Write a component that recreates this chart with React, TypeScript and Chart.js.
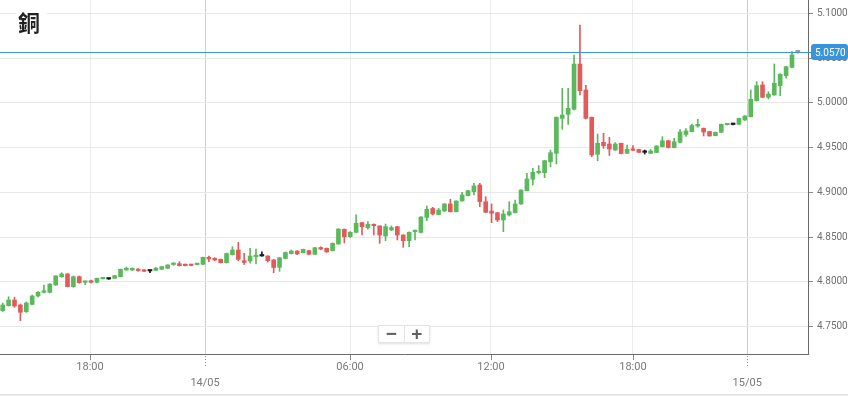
import React, { useEffect, useRef } from 'react';
import { Chart, registerables } from 'chart.js';

Chart.register(...registerables);

const title = '銅';
const currentPrice = 5.057;

const opens = [
  4.7677, 4.7733, 4.7796, 4.7741, 4.7666, 4.7748, 4.7841, 4.7882, 4.7882, 4.7964,
  4.8057, 4.8087, 4.7945, 4.8057, 4.7994, 4.8012, 4.7994, 4.8033, 4.8031, 4.8039,
  4.8057, 4.8132, 4.8132, 4.8137, 4.8132, 4.8121, 4.8128, 4.8140, 4.8151, 4.8193,
  4.8202, 4.8196, 4.8188, 4.8192, 4.8196, 4.8274, 4.8263, 4.8251, 4.8213, 4.8303,
  4.8355, 4.8236, 4.8232, 4.8280, 4.8288, 4.8288, 4.8244, 4.8162, 4.8260, 4.8314,
  4.8344, 4.8325, 4.8348, 4.8307, 4.8381, 4.8374, 4.8348, 4.8422, 4.8587, 4.8504,
  4.8553, 4.8661, 4.8605, 4.8635, 4.8624, 4.8512, 4.8579, 4.8616, 4.8523, 4.8459,
  4.8560, 4.8551, 4.8719, 4.8819, 4.8752, 4.8791, 4.8870, 4.8783, 4.8903, 4.8962,
  4.9007, 4.9082, 4.8895, 4.8791, 4.8772, 4.8691, 4.8747, 4.8772, 4.8870, 4.9018,
  4.9146, 4.9219, 4.9219, 4.9342, 4.9436, 4.9827, 4.9872, 4.9928, 5.0434, 5.0144,
  4.9839, 4.9425, 4.9559, 4.9540, 4.9473, 4.9548, 4.9436, 4.9481, 4.9479, 4.9447,
  4.9436, 4.9445, 4.9510, 4.9577, 4.9499, 4.9559, 4.9646, 4.9678, 4.9741, 4.9716,
  4.9680, 4.9633, 4.9671, 4.9755, 4.9758, 4.9760, 4.9808, 4.9845, 5.0024, 5.0200,
  5.0062, 5.0088, 5.0192, 5.0304, 5.0397, 5.0570,
];
const highs = [
  4.7763, 4.7833, 4.7827, 4.7752, 4.7774, 4.7852, 4.7891, 4.7964, 4.7981, 4.8070,
  4.8102, 4.8093, 4.8065, 4.8065, 4.8009, 4.8020, 4.8042, 4.8042, 4.8033, 4.8072,
  4.8143, 4.8165, 4.8154, 4.8146, 4.8135, 4.8123, 4.8162, 4.8173, 4.8191, 4.8213,
  4.8225, 4.8199, 4.8190, 4.8201, 4.8277, 4.8288, 4.8269, 4.8255, 4.8322, 4.8392,
  4.8441, 4.8318, 4.8374, 4.8366, 4.8336, 4.8292, 4.8251, 4.8274, 4.8333, 4.8355,
  4.8348, 4.8366, 4.8352, 4.8385, 4.8392, 4.8378, 4.8434, 4.8593, 4.8590, 4.8562,
  4.8747, 4.8665, 4.8672, 4.8646, 4.8627, 4.8646, 4.8624, 4.8620, 4.8526, 4.8557,
  4.8579, 4.8728, 4.8847, 4.8833, 4.8821, 4.8875, 4.8922, 4.8906, 4.9000, 4.9023,
  4.9101, 4.9101, 4.8951, 4.8870, 4.8777, 4.8802, 4.8895, 4.8914, 4.9029, 4.9213,
  4.9269, 4.9298, 4.9358, 4.9473, 4.9842, 5.0163, 5.0163, 5.0535, 5.0870, 5.0196,
  4.9842, 4.9652, 4.9660, 4.9615, 4.9555, 4.9551, 4.9529, 4.9523, 4.9482, 4.9473,
  4.9479, 4.9521, 4.9622, 4.9582, 4.9604, 4.9702, 4.9713, 4.9764, 4.9816, 4.9719,
  4.9683, 4.9674, 4.9764, 4.9764, 4.9772, 4.9831, 4.9859, 5.0144, 5.0237, 5.0237,
  5.0125, 5.0434, 5.0326, 5.0409, 5.0572, 5.0585,
];
const lows = [
  4.7668, 4.7729, 4.7715, 4.7565, 4.7657, 4.7741, 4.7830, 4.7875, 4.7875, 4.7959,
  4.8048, 4.7942, 4.7938, 4.7983, 4.7967, 4.7986, 4.7986, 4.8031, 4.8026, 4.8035,
  4.8054, 4.8128, 4.8126, 4.8117, 4.8113, 4.8102, 4.8124, 4.8135, 4.8146, 4.8184,
  4.8177, 4.8177, 4.8179, 4.8188, 4.8191, 4.8225, 4.8236, 4.8210, 4.8210, 4.8299,
  4.8236, 4.8193, 4.8207, 4.8199, 4.8286, 4.8221, 4.8102, 4.8117, 4.8255, 4.8311,
  4.8303, 4.8322, 4.8303, 4.8303, 4.8359, 4.8330, 4.8344, 4.8419, 4.8434, 4.8495,
  4.8549, 4.8523, 4.8587, 4.8523, 4.8430, 4.8459, 4.8571, 4.8467, 4.8385, 4.8392,
  4.8467, 4.8545, 4.8683, 4.8747, 4.8747, 4.8786, 4.8780, 4.8780, 4.8900, 4.8959,
  4.8970, 4.8839, 4.8772, 4.8661, 4.8672, 4.8560, 4.8735, 4.8769, 4.8866, 4.9015,
  4.9082, 4.9205, 4.9164, 4.9286, 4.9317, 4.9705, 4.9760, 4.9920, 5.0088, 4.9820,
  4.9398, 4.9354, 4.9492, 4.9412, 4.9468, 4.9428, 4.9432, 4.9465, 4.9443, 4.9428,
  4.9432, 4.9442, 4.9507, 4.9496, 4.9496, 4.9555, 4.9624, 4.9674, 4.9727, 4.9630,
  4.9626, 4.9630, 4.9666, 4.9753, 4.9753, 4.9756, 4.9805, 4.9842, 5.0021, 5.0058,
  5.0043, 5.0085, 5.0080, 5.0275, 5.0393, 5.0555,
];
const closes = [
  4.7741, 4.7796, 4.7729, 4.7659, 4.7763, 4.7841, 4.7882, 4.7900, 4.7975, 4.8065,
  4.8087, 4.7945, 4.8057, 4.7990, 4.8005, 4.7994, 4.8039, 4.8039, 4.8031, 4.8068,
  4.8140, 4.8151, 4.8151, 4.8126, 4.8117, 4.8121, 4.8151, 4.8169, 4.8188, 4.8202,
  4.8180, 4.8180, 4.8182, 4.8199, 4.8274, 4.8255, 4.8244, 4.8213, 4.8316, 4.8355,
  4.8251, 4.8216, 4.8288, 4.8292, 4.8288, 4.8236, 4.8160, 4.8269, 4.8327, 4.8344,
  4.8311, 4.8363, 4.8307, 4.8381, 4.8366, 4.8333, 4.8430, 4.8590, 4.8504, 4.8553,
  4.8654, 4.8616, 4.8643, 4.8627, 4.8523, 4.8616, 4.8605, 4.8523, 4.8459, 4.8553,
  4.8568, 4.8724, 4.8810, 4.8758, 4.8802, 4.8870, 4.8783, 4.8903, 4.8970, 4.9018,
  4.9071, 4.8895, 4.8777, 4.8766, 4.8691, 4.8758, 4.8783, 4.8870, 4.9026, 4.9149,
  4.9224, 4.9227, 4.9354, 4.9443, 4.9839, 4.9864, 4.9939, 5.0434, 5.0136, 4.9827,
  4.9417, 4.9548, 4.9521, 4.9484, 4.9540, 4.9434, 4.9481, 4.9470, 4.9447, 4.9447,
  4.9462, 4.9518, 4.9577, 4.9501, 4.9566, 4.9674, 4.9686, 4.9747, 4.9760, 4.9674,
  4.9630, 4.9671, 4.9760, 4.9760, 4.9758, 4.9827, 4.9853, 5.0040, 5.0192, 5.0062,
  5.0099, 5.0219, 5.0319, 5.0404, 5.0535, 5.0570,
];

const yTickValues = [4.75, 4.8, 4.85, 4.9, 4.95, 5.0, 5.05, 5.1];
const xTickLabels = ['18:00', '14/05', '06:00', '12:00', '18:00', '15/05'];
const xTickSlots = [14.82, 34.35, 58.97, 82.9, 107.0, 126.4];
const xTickIsDay = [false, true, false, false, false, true];

const GREEN = '#5cb85c';
const RED = '#e25b5b';
const DOJI = '#1a1a1a';
const LIVE = '#9a9a9a';
const BLUE = '#3a94dc';
const AXIS_FONT = 'Roboto, sans-serif';

function candleColor(i: number): string {
  if (i === opens.length - 1) return LIVE;
  if (closes[i] > opens[i]) return GREEN;
  if (closes[i] < opens[i]) return RED;
  return DOJI;
}

const priceLinePlugin = {
  id: 'priceLine',
  afterDraw(chart: any) {
    const { ctx, chartArea } = chart;
    const yScale = chart.scales.y;
    const py = Math.round(yScale.getPixelForValue(currentPrice)) + 0.5;
    ctx.save();
    ctx.strokeStyle = BLUE;
    ctx.lineWidth = 1;
    ctx.beginPath();
    ctx.moveTo(chartArea.left, py);
    ctx.lineTo(chartArea.right + 4, py);
    ctx.stroke();
    const bx = chartArea.right + 3;
    const bw = chart.width - bx;
    const bh = 16;
    const by = py - 8.5;
    ctx.fillStyle = BLUE;
    ctx.beginPath();
    if (ctx.roundRect) ctx.roundRect(bx, by, bw, bh, 3);
    else ctx.rect(bx, by, bw, bh);
    ctx.fill();
    ctx.fillStyle = '#ffffff';
    ctx.font = `10px ${AXIS_FONT}`;
    ctx.textAlign = 'left';
    ctx.textBaseline = 'middle';
    ctx.fillText(currentPrice.toFixed(4), bx + 4, py + 0.5);
    ctx.restore();
  },
};

const xTickMarkPlugin = {
  id: 'xTickMarks',
  afterDraw(chart: any) {
    const { ctx, chartArea } = chart;
    const xs = chart.scales.x;
    ctx.save();
    ctx.fillStyle = '#8a8a8a';
    xTickSlots.forEach((v, i) => {
      const px = Math.round(xs.getPixelForValue(v));
      if (xTickIsDay[i]) {
        for (let k = 0; k < 4; k++) ctx.fillRect(px, chartArea.bottom + 2 + k * 3, 1, 1);
      } else {
        ctx.fillRect(px, chartArea.bottom + 1, 1, 5);
      }
    });
    ctx.restore();
  },
};

export default function App() {
  const ref = useRef<HTMLCanvasElement>(null);

  useEffect(() => {
    document.body.style.margin = '0';
    const canvas = ref.current;
    if (!canvas) return;
    const colors = opens.map((_, i) => candleColor(i));
    const chart = new Chart(canvas, {
      type: 'bar',
      data: {
        datasets: [
          {
            label: 'body',
            data: opens.map((o, i) => ({ x: i, y: [Math.min(o, closes[i]), Math.max(o, closes[i])] })) as any,
            backgroundColor: colors,
            barThickness: 4,
            minBarLength: 1.5,
            grouped: false,
            order: 0,
            borderWidth: 0,
          },
          {
            label: 'wick',
            data: opens.map((_, i) => ({ x: i, y: [lows[i], highs[i]] })) as any,
            backgroundColor: colors,
            barThickness: 1,
            grouped: false,
            order: 1,
            borderWidth: 0,
          },
        ],
      },
      options: {
        animation: false,
        responsive: false,
        events: [],
        layout: { padding: 0 },
        plugins: {
          legend: { display: false },
          tooltip: { enabled: false },
          title: { display: false },
        },
        scales: {
          x: {
            type: 'linear',
            min: -0.46,
            max: 136.72,
            offset: false,
            afterBuildTicks: (scale: any) => {
              scale.ticks = xTickSlots.map((v) => ({ value: v }));
            },
            afterFit: (scale: any) => {
              scale.height = 42;
              scale.paddingLeft = 0;
              scale.paddingRight = 0;
            },
            grid: {
              offset: false,
              drawTicks: false,
              lineWidth: 1,
              color: (ctx: any) => (xTickIsDay[ctx.index] ? '#cdcdcd' : '#ececec'),
            },
            border: { display: true, color: '#6a6a6a', width: 1 },
            ticks: {
              autoSkip: false,
              maxRotation: 0,
              padding: 6,
              color: '#7a7a7a',
              font: { size: 11, family: AXIS_FONT, lineHeight: 1.4 },
              callback: (_v: any, index: number) =>
                xTickIsDay[index] ? ['', xTickLabels[index]] : xTickLabels[index],
            },
          },
          y: {
            type: 'linear',
            position: 'right',
            min: 4.71927,
            max: 5.11498,
            afterBuildTicks: (scale: any) => {
              scale.ticks = yTickValues.map((v) => ({ value: v }));
            },
            afterFit: (scale: any) => {
              scale.width = 40;
              scale.paddingTop = 0;
              scale.paddingBottom = 0;
            },
            grid: {
              color: '#e8e8e8',
              lineWidth: 1,
              drawTicks: true,
              tickLength: 5,
              tickColor: '#8a8a8a',
            },
            border: { display: true, color: '#6a6a6a', width: 1 },
            ticks: {
              padding: 4,
              color: '#707070',
              font: { size: 10, family: AXIS_FONT },
              callback: (v: any) => Number(v).toFixed(4),
            },
          },
        },
      } as any,
      plugins: [priceLinePlugin, xTickMarkPlugin],
    });
    return () => chart.destroy();
  }, []);

  return (
    <div style={{ position: 'relative', width: 848, height: 396, background: '#ffffff', overflow: 'hidden' }}>
      <canvas ref={ref} width={848} height={396} style={{ display: 'block' }} />
      <div
        style={{
          position: 'absolute',
          left: 16,
          top: 6,
          width: 31,
          height: 32,
          boxSizing: 'border-box',
          paddingTop: 4,
          paddingLeft: 2,
          background: '#ffffff',
          fontFamily: "'Noto Sans CJK TC', 'Noto Sans CJK SC', sans-serif",
          fontWeight: 700,
          fontSize: 22,
          lineHeight: '22px',
          color: '#222222',
        }}
      >
        {title}
      </div>
      <div
        style={{
          position: 'absolute',
          left: 378,
          top: 325,
          width: 52,
          height: 18,
          display: 'flex',
          background: '#ffffff',
          border: '1px solid #e4e4e4',
          boxShadow: '0 1px 2px rgba(0,0,0,0.12)',
          boxSizing: 'border-box',
        }}
      >
        <div
          style={{
            flex: 1,
            textAlign: 'center',
            borderRight: '1px solid #e4e4e4',
            fontFamily: "'Liberation Sans', Arial, sans-serif",
            fontWeight: 700,
            fontSize: 19,
            lineHeight: '16px',
            color: '#616161',
          }}
        >
          −
        </div>
        <div
          style={{
            flex: 1,
            textAlign: 'center',
            fontFamily: "'Liberation Sans', Arial, sans-serif",
            fontWeight: 700,
            fontSize: 19,
            lineHeight: '16px',
            color: '#616161',
          }}
        >
          +
        </div>
      </div>
      <div style={{ position: 'absolute', left: 0, top: 394, width: 848, height: 2, background: '#e6e6e6' }} />
    </div>
  );
}
